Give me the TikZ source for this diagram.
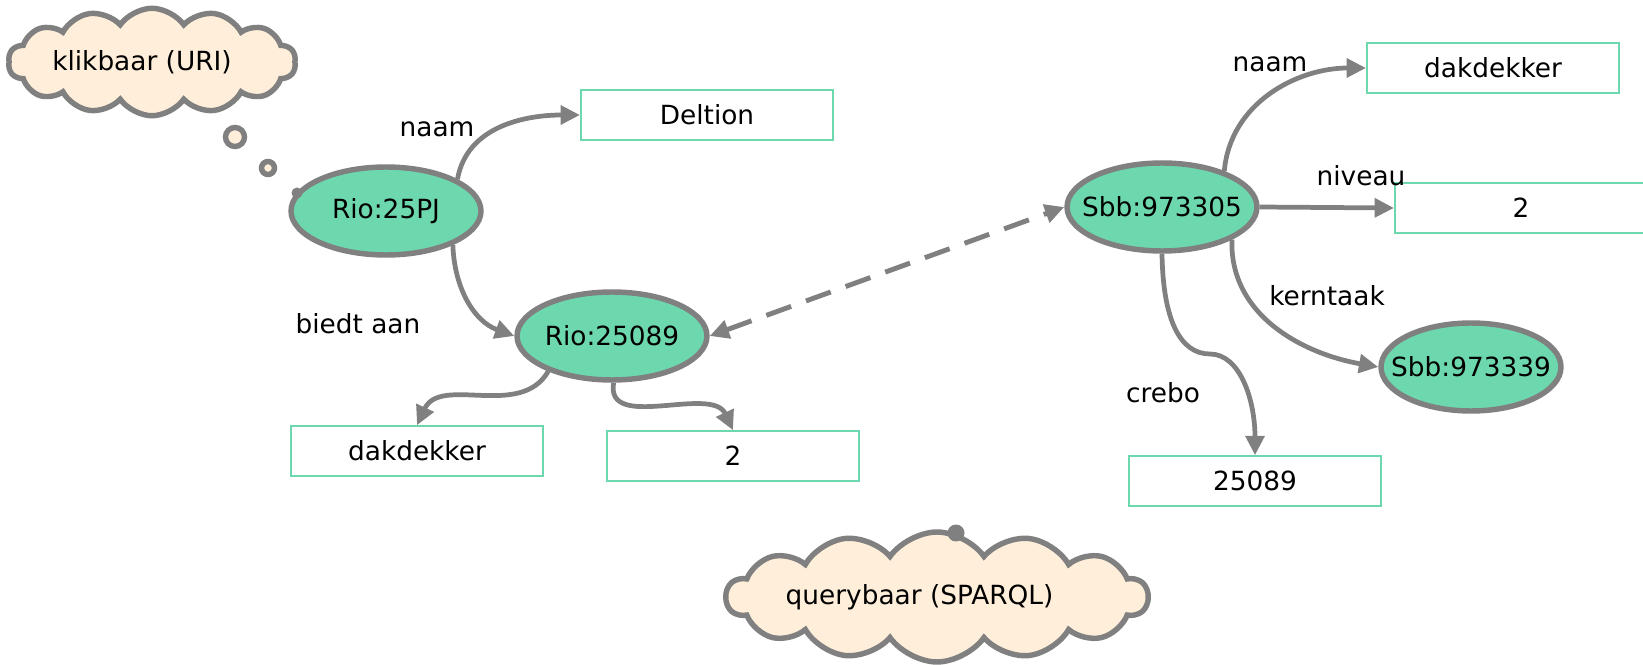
\documentclass[tikz,border=0pt]{standalone}
\usepackage{fontspec}
\setmainfont{DejaVu Sans}
\usetikzlibrary{arrows.meta,shapes.geometric,shapes.symbols}
\definecolor{nodegreen}{RGB}{109,216,174}
\definecolor{edgegray}{RGB}{128,128,128}
\definecolor{cloudfill}{RGB}{255,239,218}

\begin{document}
\begin{tikzpicture}[x=0.02cm,y=0.02cm,auto,
	every node/.style={font=\fontsize{15pt}{18pt}\selectfont},
	main node/.style={ellipse,draw=edgegray,fill=nodegreen,line width=3.1pt,inner sep=0pt,minimum width=3.8cm,minimum height=1.76cm},
	lit node/.style={rectangle,draw=nodegreen,line width=0.9pt,minimum width=5.05cm,minimum height=1cm},
	cloud node/.style={cloud,cloud puffs=14,cloud puff arc=110,cloud ignores aspect,draw=edgegray,fill=cloudfill,line width=3.1pt,inner sep=0pt},
	rel edge/.style={draw=edgegray,line width=2.7pt,-{Triangle[length=11pt,width=10.5pt]}}]
	\useasboundingbox (0,0) rectangle (1643,-665);
	% thought clouds
	\node[cloud node,minimum width=5.75cm,minimum height=2.15cm] (11) at (152,-62) {klikbaar (URI)\hspace*{0.4cm}};
	\node[cloud node,minimum width=8.25cm,minimum height=2.6cm] (12) at (937,-597) {querybaar (SPARQL)\hspace*{0.7cm}};
	\draw[edgegray,line width=3.1pt,fill=cloudfill] (235,-137) circle[radius=9.5];
	\draw[edgegray,line width=3.1pt,fill=cloudfill] (268,-168) circle[radius=6.5];
	% resources
	\node[main node] (1) at (386,-211) {\makebox[0pt]{Rio:25PJ}};
	\node[main node] (3) at (612,-336) {\makebox[0pt]{Rio:25089}};
	\node[main node] (6) at (1162,-207) {\makebox[0pt]{Sbb:973305}};
	\node[main node,minimum width=3.6cm] (9) at (1471,-367) {\makebox[0pt]{Sbb:973339}};
	% literals
	\node[lit node] (2) at (707,-115) {Deltion};
	\node[lit node] (4) at (417,-451) {dakdekker};
	\node[lit node] (5) at (733,-456) {2};
	\node[lit node] (7) at (1493,-68) {dakdekker};
	\node[lit node] (8) at (1521,-208) {2};
	\node[lit node] (10) at (1255,-481) {25089};
	\fill[edgegray] (297,-193) circle[radius=5.5];
	\fill[edgegray] (956,-533) circle[radius=8.5];
	% predicates
	\node (l1) at (437,-129) {naam};
	\node (l2) at (358,-324) {biedt aan};
	\node (l3) at (1270,-64) {naam};
	\node (l4) at (1361,-176) {niveau};
	\node (l5) at (1327,-296) {kerntaak};
	\node (l6) at (1163,-393) {crebo};
	\path[every edge/.style={rel edge}]
	(1.24) edge[out=80,in=180] (2.west)
	(1.-27) edge[out=-88,in=160] (3.west)
	(3.-151) edge[out=-120,in=65] (4.north)
	(3.-88) edge[out=-100,in=115] (5.north)
	(6.30) edge[out=85,in=180] (7.west)
	(6.east) edge (8.west)
	(6.-25) edge[out=-92,in=170] (9.west);
	\draw[rel edge] (6.south) .. controls (1163,-320) and (1180,-354) .. (1210,-354)
		.. controls (1240,-354) and (1255,-400) .. (10.north);
	\draw[draw=edgegray,line width=2.8pt,dash pattern=on 15pt off 9pt,{Triangle[length=11pt,width=10.5pt]}-{Triangle[length=11pt,width=10.5pt]}] (3.east) -- (6.west);
\end{tikzpicture}
\end{document}
